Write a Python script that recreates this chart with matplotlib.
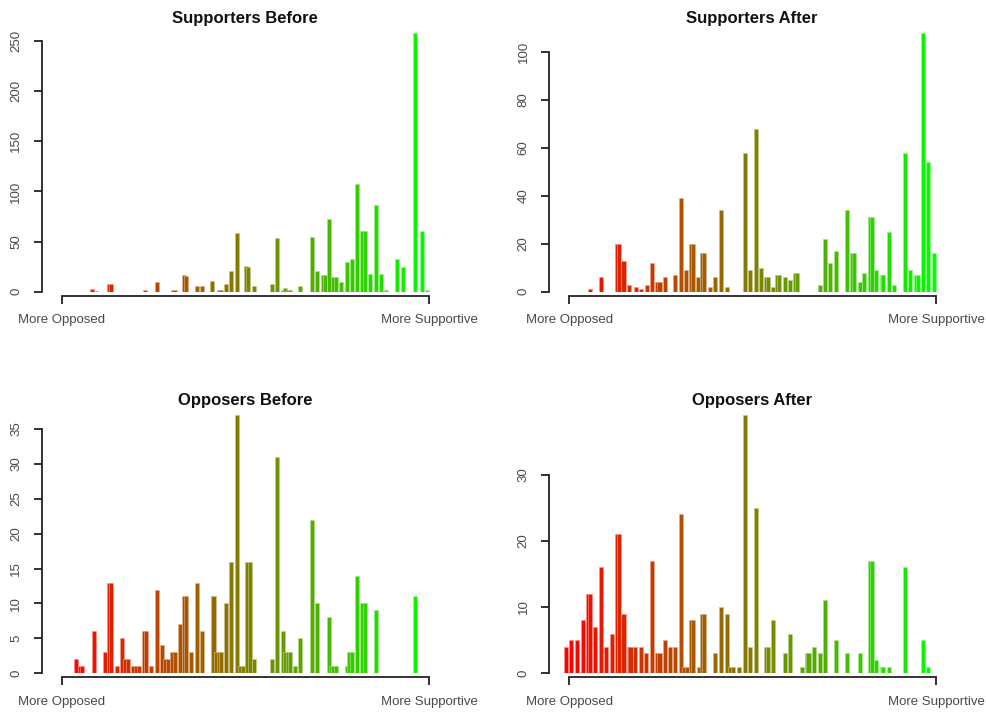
import numpy as np
import matplotlib
matplotlib.use("Agg")
import matplotlib.pyplot as plt

plt.rcParams['font.family'] = ['Liberation Sans', 'DejaVu Sans']

# score position (0 = most opposed, 100 = most supportive) and counts
sup_before_x = [8.3, 9.2, 12.9, 13.5, 22.7, 26.0, 30.3, 30.8, 33.3, 33.8, 36.8, 38.2, 40.9, 42.8, 43.3,
                44.8, 46.2, 47.6, 50.1, 50.8, 52.4, 57.2, 58.6, 60.2, 60.9, 61.5, 62.1, 64.9, 68.1, 69.4,
                71.1, 71.6, 72.8, 74.0, 74.6, 76.0, 77.6, 79.0, 80.4, 81.9, 82.5, 84.0, 85.5, 87.0, 88.3,
                91.4, 92.8, 96.3, 98.0, 99.5]
sup_before_n = [3, 1, 8, 8, 2, 10, 2, 2, 17, 16, 6, 6, 11, 2, 2,
                8, 21, 59, 26, 25, 6, 8, 54, 2, 4, 2, 2, 6, 55, 21,
                17, 17, 72, 15, 15, 10, 30, 33, 107, 61, 61, 18, 86, 18, 2,
                33, 25, 258, 61, 2]

sup_after_x = [5.6, 8.6, 12.9, 13.5, 14.8, 16.3, 18.1, 19.6, 21.1, 22.6, 24.0, 24.6, 26.0, 28.9, 30.4,
               31.9, 33.3, 33.8, 35.2, 36.3, 36.8, 38.3, 39.8, 41.3, 42.9, 47.8, 49.2, 50.8, 52.2, 53.7,
               54.2, 55.4, 56.6, 57.2, 58.7, 60.1, 61.5, 62.1, 68.2, 69.6, 71.1, 72.6, 75.8, 77.0, 77.6,
               79.1, 80.4, 81.9, 82.5, 83.7, 85.1, 85.6, 87.0, 88.5, 91.4, 92.9, 94.4, 95.0, 96.5, 97.8,
               99.5]
sup_after_n = [1, 6, 20, 20, 13, 3, 2, 1, 3, 12, 4, 4, 6, 7, 39,
               9, 20, 20, 6, 16, 16, 2, 6, 34, 2, 58, 9, 68, 10, 6,
               6, 2, 7, 7, 6, 5, 8, 8, 3, 22, 12, 17, 34, 16, 16,
               4, 8, 31, 31, 9, 7, 7, 25, 3, 58, 9, 7, 7, 108, 54,
               16]

opp_before_x = [3.9, 5.0, 5.6, 8.7, 11.7, 12.8, 13.5, 14.9, 16.4, 17.3, 18.1, 19.4, 20.2, 21.1, 22.3,
                23.0, 24.3, 26.0, 27.3, 28.1, 28.9, 29.9, 30.7, 32.1, 33.3, 33.8, 35.2, 36.7, 38.2, 41.3,
                42.1, 42.8, 43.3, 44.7, 46.1, 47.6, 48.4, 49.3, 50.4, 51.2, 52.4, 57.2, 58.6, 60.2, 60.9,
                61.5, 62.1, 63.6, 64.9, 68.1, 69.4, 72.8, 73.4, 74.0, 74.6, 77.6, 78.3, 79.0, 80.4, 81.9,
                82.5, 85.5, 96.3]
opp_before_n = [2, 1, 1, 6, 3, 13, 13, 1, 5, 2, 2, 1, 1, 1, 6,
                6, 1, 12, 4, 2, 2, 3, 3, 7, 11, 11, 3, 13, 6, 11,
                3, 3, 3, 10, 16, 37, 1, 1, 16, 16, 2, 2, 31, 6, 3,
                3, 3, 1, 5, 22, 10, 8, 1, 1, 1, 1, 3, 3, 14, 10,
                10, 9, 11]

opp_after_x = [-0.8, 0.5, 2.2, 3.7, 5.2, 5.7, 7.1, 8.7, 10.1, 11.7, 12.9, 13.5, 14.8, 16.2, 16.7,
               17.9, 19.6, 20.9, 22.6, 24.0, 24.6, 26.0, 27.4, 28.9, 30.4, 31.4, 32.2, 33.3, 33.8, 35.3,
               36.3, 36.8, 39.8, 41.3, 42.9, 43.8, 44.7, 46.3, 47.8, 49.2, 50.8, 53.7, 54.2, 55.4, 58.7,
               60.1, 63.3, 64.7, 65.2, 66.6, 68.2, 69.6, 72.6, 75.8, 79.1, 81.9, 82.5, 83.7, 85.1, 85.6,
               87.0, 91.4, 96.5, 97.8]
opp_after_n = [4, 5, 5, 8, 12, 12, 7, 16, 4, 6, 21, 21, 9, 4, 4,
               4, 4, 3, 17, 3, 3, 5, 4, 4, 24, 1, 1, 8, 8, 1,
               9, 9, 3, 10, 9, 1, 1, 1, 39, 4, 25, 4, 4, 8, 3,
               6, 1, 3, 3, 4, 3, 11, 5, 3, 3, 17, 17, 2, 1, 1,
               1, 16, 5, 1]

titles = ["Supporters Before", "Supporters After", "Opposers Before", "Opposers After"]
yticks = [[0, 50, 100, 150, 200, 250], [0, 20, 40, 60, 80, 100],
          [0, 5, 10, 15, 20, 25, 30, 35], [0, 10, 20, 30]]
end_labels = ["More Opposed", "More Supportive"]

panels = [(sup_before_x, sup_before_n), (sup_after_x, sup_after_n),
          (opp_before_x, opp_before_n), (opp_after_x, opp_after_n)]
boxes = [[0.0423, 0.5909, 0.4121, 0.3628], [0.5568, 0.5909, 0.4121, 0.3628],
         [0.0423, 0.0557, 0.4121, 0.3623], [0.5568, 0.0557, 0.4121, 0.3623]]

fig = plt.figure(figsize=(9.86, 7.13), dpi=100)
axc = '#222222'
txc = '#4a4a4a'

for i in range(4):
    x = np.array(panels[i][0])
    n = np.array(panels[i][1])
    ax = fig.add_axes(boxes[i])
    t = np.clip(x / 100.0, 0, 1)
    cols = np.column_stack([1 - t, t, np.zeros_like(t)])
    edges = cols * 0.45 + 0.55
    ax.bar(x, n, width=1.1, color=cols, edgecolor=edges, linewidth=0.45)
    ax.set_xlim(-5.5, 105.2)
    ax.set_ylim(0, n.max())
    ax.set_title(titles[i], fontsize=12, fontweight='bold', color='#111111', pad=7)

    for s in ['top', 'right']:
        ax.spines[s].set_visible(False)
    ax.spines['left'].set_bounds(0, yticks[i][-1])
    ax.spines['bottom'].set_bounds(0, 100)
    ax.spines['bottom'].set_position(('outward', 3))
    for s in ['left', 'bottom']:
        ax.spines[s].set_color(axc)
        ax.spines[s].set_linewidth(1.3)

    ax.set_yticks(yticks[i])
    ax.set_yticklabels([str(v) for v in yticks[i]], rotation=90, va='center')
    ax.set_xticks([0, 100])
    ax.set_xticklabels(end_labels)
    ax.tick_params(axis='y', length=6, width=1.3, color=axc, pad=8, labelsize=9.5, labelcolor=txc)
    ax.tick_params(axis='x', length=6, width=1.3, color=axc, pad=7, labelsize=9.5, labelcolor=txc)

fig.savefig("out.png", dpi=100)
